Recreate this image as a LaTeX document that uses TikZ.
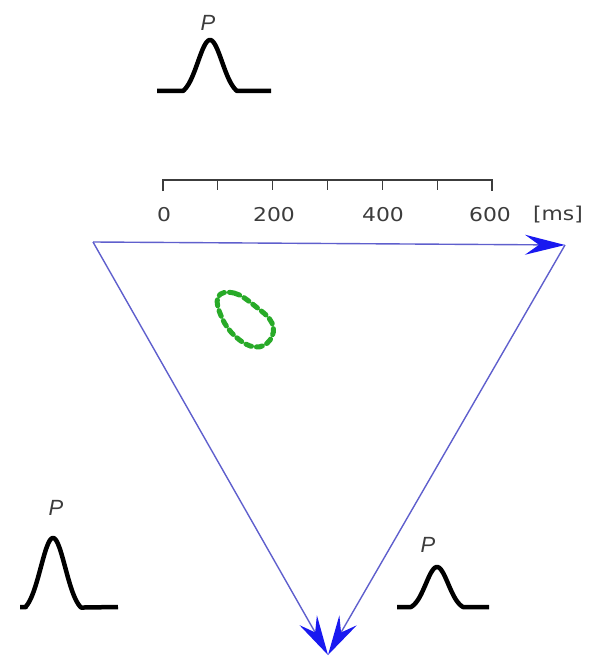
\documentclass[tikz,border=0pt]{standalone}
\usepackage{fontspec}
\setmainfont{DejaVu Sans}
\newfontfamily\plabelfont{Liberation Sans}
\usetikzlibrary{arrows.meta}
\definecolor{axisline}{RGB}{95,95,205}
\definecolor{tipblue}{RGB}{25,25,240}
\definecolor{loopgreen}{RGB}{40,170,40}
\definecolor{textgray}{RGB}{60,60,60}
\newcommand{\wide}[1]{\scalebox{1.15}[1]{#1}}
\tikzset{
  pulse/.style={line width=4.5pt, black, line join=round},
  plabel/.style={font=\plabelfont\itshape\fontsize{22}{22}\selectfont, text=textgray, inner sep=0pt},
  ticklabel/.style={font=\fontsize{19}{19}\selectfont, text=textgray, inner sep=0pt},
  scalebar/.style={line width=1.3pt, textgray},
  edge/.style={line width=1.4pt, axisline, -{Stealth[length=40pt,width=20pt,inset=14pt,color=tipblue]}},
  loopline/.style={loopgreen, line width=5pt, dash pattern=on 6pt off 5pt, line cap=round}
}
% pulse: base y, height, centre, half width, sigma^2*2
\newcommand{\pulseplot}[6]{%
  \draw[pulse] (#1,#2) -- ({#4-#5},#2)
   -- plot[domain={#4-#5}:{#4+#5},samples=80,smooth]
      (\x,{#2-#3*(exp(-((\x-#4)^2)/#6)-exp(-(#5*#5)/#6))/(1-exp(-(#5*#5)/#6))})
   -- (#1+0,#2);}
\begin{document}
\begin{tikzpicture}[x=1pt,y=-1pt]
\useasboundingbox (0,0) rectangle (590,658);
% top pulse
\draw[pulse] (157,91) -- (183,91)
  -- plot[domain=183:237,samples=80,smooth] (\x,{91-51*(exp(-((\x-210)^2)/290)-exp(-729/290))/(1-exp(-729/290))}) -- (271,91);
\node[plabel] (ptop) at (208,23) {P};
% bottom-left pulse
\draw[pulse] (20,607) -- (26,607)
  -- plot[domain=26:81,samples=80,smooth] (\x,{607-69*(exp(-((\x-53)^2)/300)-exp(-756/300))/(1-exp(-756/300))}) -- (118,607);
\node[plabel] (pleft) at (56,508) {P};
% bottom-right pulse
\draw[pulse] (397,607) -- (411,607)
  -- plot[domain=411:463,samples=80,smooth] (\x,{607-40*(exp(-((\x-437)^2)/250)-exp(-676/250))/(1-exp(-676/250))}) -- (489,607);
\node[plabel] (pright) at (428,545) {P};
% scale bar
\draw[scalebar] (163,191) -- (163,180) -- (492,180) -- (492,191);
\foreach \i in {1,...,5} { \draw[scalebar] ({163+\i*54.83},180) -- ({163+\i*54.83},190); }
\node[ticklabel] (t0) at (164,215) {\wide{0}};
\node[ticklabel] (t200) at (274,215) {\wide{200}};
\node[ticklabel] (t400) at (383,215) {\wide{400}};
\node[ticklabel] (t600) at (490,215) {\wide{600}};
\node[ticklabel] (tms) at (558,215) {\wide{[ms]}};
% triangle
\coordinate (A) at (93,242);
\coordinate (B) at (565,245);
\coordinate (C) at (328,655);
\draw[edge] (A) -- (B);
\draw[edge] (A) -- (C);
\draw[edge] (B) -- (C);
% green loop
\draw[loopline] plot[smooth cycle, tension=0.7] coordinates {(218,297) (234,293) (255,306) (272,323) (270,340) (255,347) (236,337) (222,318)};
\end{tikzpicture}
\end{document}
